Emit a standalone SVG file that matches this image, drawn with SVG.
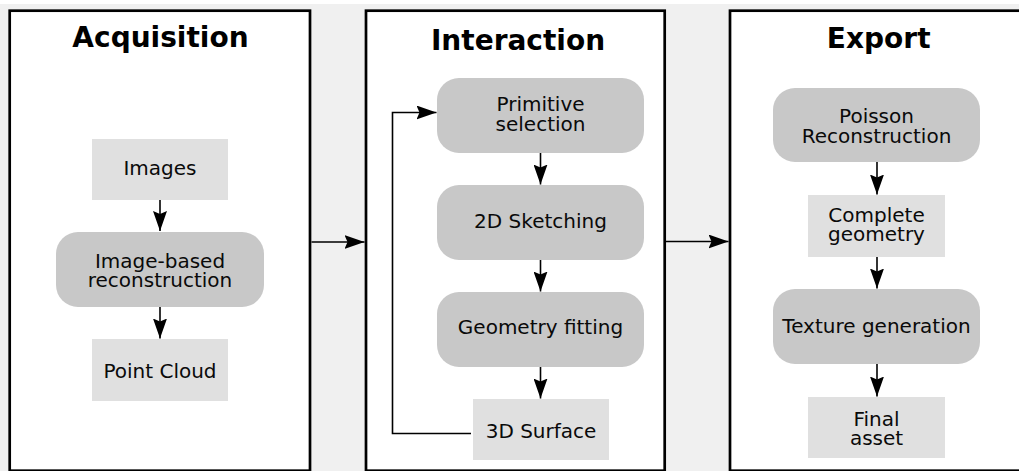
<svg xmlns="http://www.w3.org/2000/svg" width="1019" height="471" viewBox="0 0 1019 471">
  <defs>
    <marker id="arr" markerUnits="userSpaceOnUse" markerWidth="20" markerHeight="14" refX="20" refY="7" orient="auto">
      <path d="M0,0 L20,7 L0,14 L3,7 Z" fill="#000"/>
    </marker>
    <style>
      .panel { fill: #ffffff; stroke: #000; stroke-width: 2.7; }
      .title { font-family: "DejaVu Sans", "Liberation Sans", sans-serif; font-weight: bold; font-size: 28px; fill: #000; text-anchor: middle; }
      .lbl { font-family: "DejaVu Sans", "Liberation Sans", sans-serif; font-size: 20px; fill: #0a0a0a; text-anchor: middle; }
      .proc { fill: #c8c8c8; }
      .data { fill: #e0e0e0; }
      .conn { fill: none; stroke: #000; stroke-width: 1.6; }
    </style>
  </defs>
  <rect x="0" y="0" width="1019" height="471" fill="#ffffff"/>
  <rect x="0" y="4" width="1019" height="467" fill="#f0f0f0"/>

  <g id="panel-acquisition">
    <rect class="panel" x="9.7" y="10.7" width="300.3" height="460"/>
    <text class="title" x="160.5" y="46.7">Acquisition</text>
  </g>
  <g id="panel-interaction">
    <rect class="panel" x="366" y="10.7" width="298.7" height="460"/>
    <text class="title" x="518" y="50">Interaction</text>
  </g>
  <g id="panel-export">
    <rect class="panel" x="730" y="10.7" width="300" height="460"/>
    <text class="title" x="878.7" y="47.7">Export</text>
  </g>

  <g id="node-images">
    <rect class="data" x="92" y="139" width="136" height="61"/>
    <text class="lbl" x="160" y="174.5">Images</text>
  </g>
  <g id="node-ibr">
    <rect class="proc" x="56" y="232" width="208" height="75" rx="22"/>
    <text class="lbl" x="160" y="268.3">Image-based<tspan x="160" dy="19">reconstruction</tspan></text>
  </g>
  <g id="node-pointcloud">
    <rect class="data" x="92" y="339" width="136" height="62"/>
    <text class="lbl" x="160" y="378.3">Point Cloud</text>
  </g>

  <g id="node-primitive">
    <rect class="proc" x="437" y="78" width="207" height="75" rx="22"/>
    <text class="lbl" x="540.5" y="111">Primitive<tspan x="540.5" dy="20">selection</tspan></text>
  </g>
  <g id="node-sketch">
    <rect class="proc" x="437" y="185" width="207" height="75" rx="22"/>
    <text class="lbl" x="540.5" y="228.3">2D Sketching</text>
  </g>
  <g id="node-fitting">
    <rect class="proc" x="437" y="292" width="207" height="75" rx="22"/>
    <text class="lbl" x="540.5" y="334.3">Geometry fitting</text>
  </g>
  <g id="node-surface">
    <rect class="data" x="473" y="399" width="136" height="61"/>
    <text class="lbl" x="541" y="437.7">3D Surface</text>
  </g>

  <g id="node-poisson">
    <rect class="proc" x="773" y="88" width="207" height="74" rx="22"/>
    <text class="lbl" x="876.5" y="123.3">Poisson<tspan x="876.5" dy="19.4">Reconstruction</tspan></text>
  </g>
  <g id="node-complete">
    <rect class="data" x="808" y="195" width="137" height="62"/>
    <text class="lbl" x="876.5" y="221.7">Complete<tspan x="876.5" dy="19">geometry</tspan></text>
  </g>
  <g id="node-texture">
    <rect class="proc" x="773" y="289" width="207" height="75" rx="22"/>
    <text class="lbl" x="876.5" y="333.3">Texture generation</text>
  </g>
  <g id="node-final">
    <rect class="data" x="808" y="397" width="137" height="61"/>
    <text class="lbl" x="876.5" y="426">Final<tspan x="876.5" dy="19">asset</tspan></text>
  </g>

  <g id="connectors">
    <path class="conn" d="M160,200 V231" marker-end="url(#arr)"/>
    <path class="conn" d="M160,307 V338.5" marker-end="url(#arr)"/>
    <path class="conn" d="M311.5,242 H364.5" marker-end="url(#arr)"/>
    <path class="conn" d="M540.5,153 V184.5" marker-end="url(#arr)"/>
    <path class="conn" d="M540.5,260 V291.5" marker-end="url(#arr)"/>
    <path class="conn" d="M540.5,367 V398.5" marker-end="url(#arr)"/>
    <path class="conn" d="M471,433.5 H392.5 V112.5 H436.5" marker-end="url(#arr)"/>
    <path class="conn" d="M666,241.5 H728.5" marker-end="url(#arr)"/>
    <path class="conn" d="M877,162 V194.5" marker-end="url(#arr)"/>
    <path class="conn" d="M877,257 V288.5" marker-end="url(#arr)"/>
    <path class="conn" d="M877,364 V396.5" marker-end="url(#arr)"/>
  </g>
</svg>
